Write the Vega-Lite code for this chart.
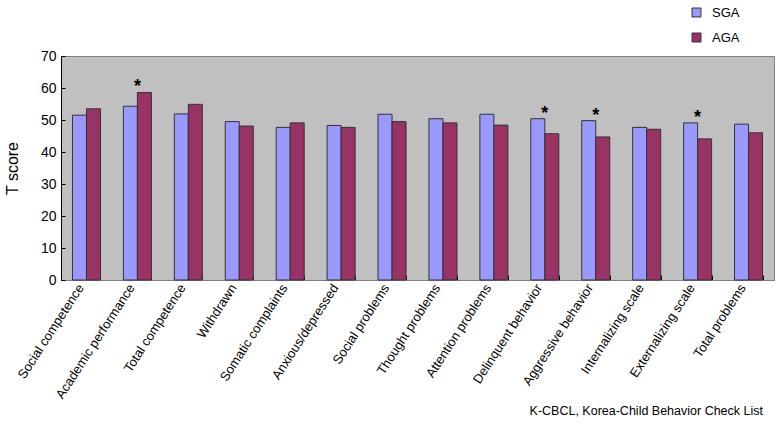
{
  "$schema": "https://vega.github.io/schema/vega-lite/v6.json",
  "width": 713,
  "height": 224,
  "autosize": {"type": "none"},
  "padding": {"left": 61, "top": 56, "right": 3, "bottom": 146},
  "background": "white",
  "config": {
    "font": "Liberation Sans",
    "view": {"fill": "#C0C0C0", "stroke": "#808080", "strokeWidth": 1}
  },
  "title": {
    "text": "K-CBCL, Korea-Child Behavior Check List",
    "orient": "bottom",
    "anchor": "end",
    "fontSize": 12.5,
    "fontWeight": "normal",
    "color": "#000",
    "offset": 4,
    "dx": -11
  },
  "datasets": {
    "scores": [
      {"scale": "Social competence", "group": "SGA", "t": 51.5},
      {"scale": "Social competence", "group": "AGA", "t": 53.5},
      {"scale": "Academic performance", "group": "SGA", "t": 54.3},
      {"scale": "Academic performance", "group": "AGA", "t": 58.6},
      {"scale": "Total competence", "group": "SGA", "t": 51.9},
      {"scale": "Total competence", "group": "AGA", "t": 54.9},
      {"scale": "Withdrawn", "group": "SGA", "t": 49.5},
      {"scale": "Withdrawn", "group": "AGA", "t": 48.1},
      {"scale": "Somatic complaints", "group": "SGA", "t": 47.7},
      {"scale": "Somatic complaints", "group": "AGA", "t": 49.1},
      {"scale": "Anxious/depressed", "group": "SGA", "t": 48.3},
      {"scale": "Anxious/depressed", "group": "AGA", "t": 47.7},
      {"scale": "Social problems", "group": "SGA", "t": 51.8},
      {"scale": "Social problems", "group": "AGA", "t": 49.5},
      {"scale": "Thought problems", "group": "SGA", "t": 50.4},
      {"scale": "Thought problems", "group": "AGA", "t": 49.1},
      {"scale": "Attention problems", "group": "SGA", "t": 51.8},
      {"scale": "Attention problems", "group": "AGA", "t": 48.4},
      {"scale": "Delinquent behavior", "group": "SGA", "t": 50.4},
      {"scale": "Delinquent behavior", "group": "AGA", "t": 45.7},
      {"scale": "Aggressive behavior", "group": "SGA", "t": 49.8},
      {"scale": "Aggressive behavior", "group": "AGA", "t": 44.7},
      {"scale": "Internalizing scale", "group": "SGA", "t": 47.7},
      {"scale": "Internalizing scale", "group": "AGA", "t": 47.1},
      {"scale": "Externalizing scale", "group": "SGA", "t": 49.1},
      {"scale": "Externalizing scale", "group": "AGA", "t": 44.1},
      {"scale": "Total problems", "group": "SGA", "t": 48.7},
      {"scale": "Total problems", "group": "AGA", "t": 46.0}
    ],
    "sig": [
      {"scale": "Academic performance", "t": 58.6, "mark": "*"},
      {"scale": "Delinquent behavior", "t": 50.4, "mark": "*"},
      {"scale": "Aggressive behavior", "t": 49.8, "mark": "*"},
      {"scale": "Externalizing scale", "t": 49.1, "mark": "*"}
    ]
  },
  "encoding": {
    "x": {
      "field": "scale",
      "type": "nominal",
      "sort": null,
      "scale": {"paddingInner": 0.45, "paddingOuter": 0.225},
      "axis": {
        "title": null,
        "labelAngle": -57,
        "labelFontSize": 13,
        "labelColor": "#000",
        "labelPadding": 10,
        "labelOffset": -6,
        "labelOverlap": false,
        "domainColor": "#808080",
        "tickColor": "#000",
        "tickSize": -5,
        "tickBand": "extent",
        "grid": false
      }
    },
    "y": {
      "field": "t",
      "type": "quantitative",
      "scale": {"domain": [0, 70], "nice": false},
      "axis": {
        "title": "T score",
        "titleFontSize": 16,
        "titleFontWeight": "normal",
        "titleColor": "#000",
        "titlePadding": 20,
        "values": [0, 10, 20, 30, 40, 50, 60, 70],
        "tickCount": 8,
        "labelOverlap": false,
        "labelFontSize": 14,
        "labelColor": "#000",
        "labelPadding": 9,
        "grid": false,
        "domainColor": "#000",
        "tickColor": "#000",
        "tickSize": -4
      }
    }
  },
  "layer": [
    {
      "data": {"name": "scores"},
      "mark": {"type": "bar", "stroke": "#333333", "strokeWidth": 1},
      "encoding": {
        "xOffset": {
          "field": "group",
          "type": "nominal",
          "sort": ["SGA", "AGA"],
          "scale": {"paddingInner": 0, "paddingOuter": 0}
        },
        "color": {
          "field": "group",
          "type": "nominal",
          "scale": {"domain": ["SGA", "AGA"], "range": ["#9999FF", "#993366"]},
          "legend": {
            "title": null,
            "orient": "none",
            "legendX": 629,
            "legendY": -50,
            "symbolType": "square",
            "symbolSize": 80,
            "symbolStrokeColor": "#333",
            "symbolStrokeWidth": 1,
            "labelFontSize": 13,
            "labelColor": "#000",
            "labelOffset": 9,
            "rowPadding": 11
          }
        }
      }
    },
    {
      "data": {"name": "sig"},
      "mark": {"type": "text", "fontSize": 18, "fontWeight": "bold", "baseline": "bottom", "dy": 4, "color": "#000"},
      "encoding": {
        "text": {"field": "mark"}
      }
    }
  ]
}
